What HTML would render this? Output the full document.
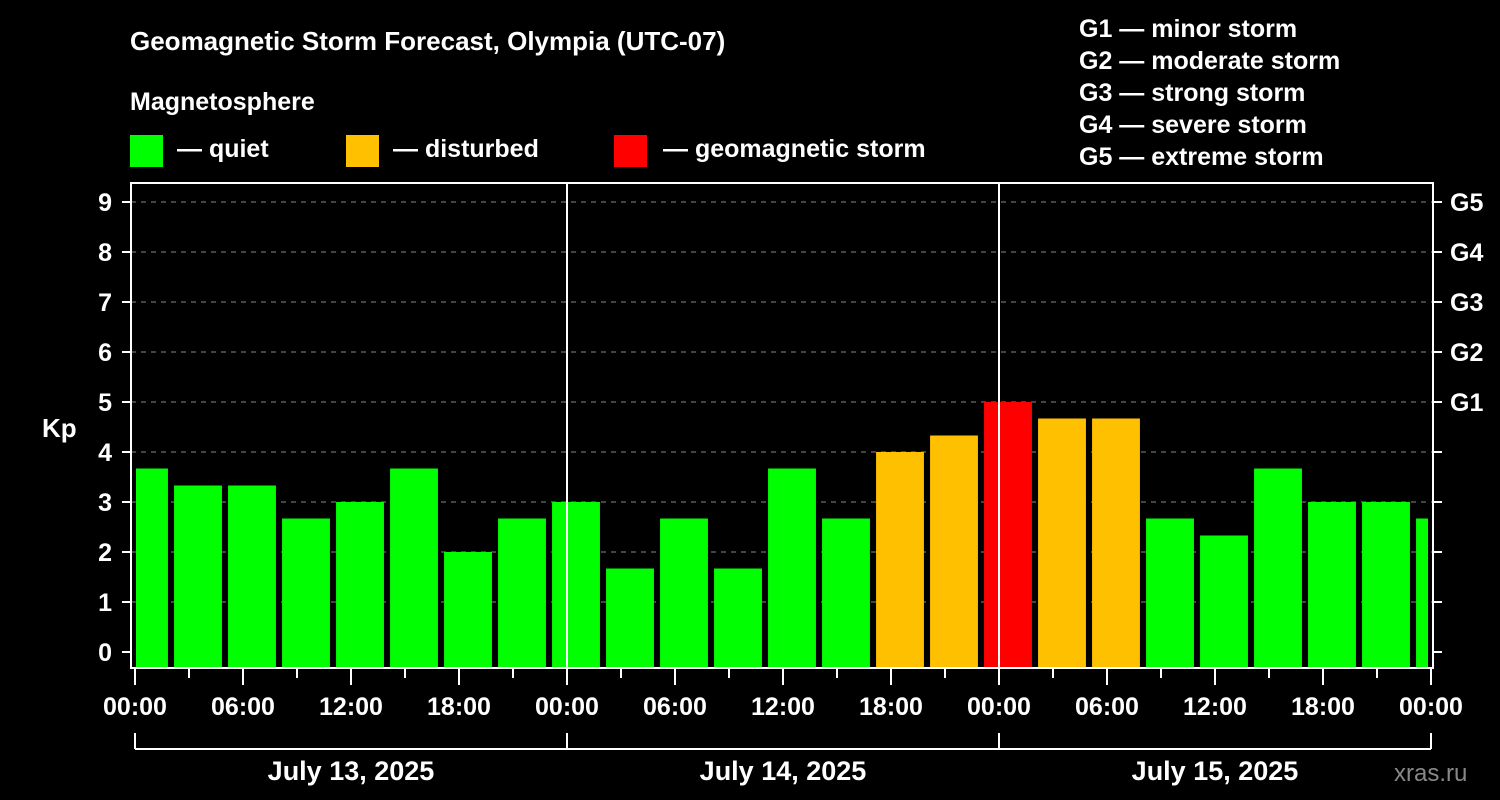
<!DOCTYPE html>
<html><head><meta charset="utf-8"><style>
html,body{margin:0;padding:0;background:#000;}
svg{display:block;font-family:"Liberation Sans",Arial,sans-serif;font-weight:bold;}
</style></head><body>
<svg id="c" width="1500" height="800" xmlns="http://www.w3.org/2000/svg">
<rect width="1500" height="800" fill="#000"/>
<text x="130" y="50" font-size="26" fill="#fff">Geomagnetic Storm Forecast, Olympia (UTC-07)</text>
<text x="130" y="110" font-size="25" fill="#fff">Magnetosphere</text>
<g><rect x="130" y="135" width="33" height="32" fill="#00ff00"/><text x="177" y="157" font-size="25" fill="#fff">— quiet</text></g>
<g><rect x="346" y="135" width="33" height="32" fill="#ffc000"/><text x="393" y="157" font-size="25" fill="#fff">— disturbed</text></g>
<g><rect x="614" y="135" width="33" height="32" fill="#ff0000"/><text x="663" y="157" font-size="25" fill="#fff">— geomagnetic storm</text></g>
<g font-size="25" fill="#fff">
<text x="1079" y="37">G1 — minor storm</text>
<text x="1079" y="69">G2 — moderate storm</text>
<text x="1079" y="101">G3 — strong storm</text>
<text x="1079" y="133">G4 — severe storm</text>
<text x="1079" y="165">G5 — extreme storm</text>
</g>
<text x="42" y="437" font-size="26" fill="#fff">Kp</text>
<text x="1394" y="781" font-size="24" fill="#888" font-weight="normal">xras.ru</text>
<g id="grid"></g><g id="bars"></g><g id="axes"></g>
</svg>
<script>
const kpValues=[3.67,3.33,3.33,2.67,3.0,3.67,2.0,2.67,3.0,1.67,2.67,1.67,3.67,2.67,4.0,4.33,5.0,4.67,4.67,2.67,2.33,3.67,3.0,3.0,2.67];
const yTicks=[0,1,2,3,4,5,6,7,8,9];
const gLabels=["G1","G2","G3","G4","G5"];
const gLevels=[5,6,7,8,9];
const hourLabels=["00:00","06:00","12:00","18:00"];
const dayLabels=["July 13, 2025","July 14, 2025","July 15, 2025"];
const NS="http://www.w3.org/2000/svg";
const L=131,R=1433,T=183,B=668,X0=135,PXH=18;
const y=v=>652-50*v;
const x=h=>X0+h*PXH;
function mk(tag,attrs,parent,txt){const e=document.createElementNS(NS,tag);for(const k in attrs)e.setAttribute(k,attrs[k]);if(txt!==undefined)e.textContent=txt;parent.appendChild(e);return e;}
const grid=document.getElementById('grid'),bars=document.getElementById('bars'),axes=document.getElementById('axes');
yTicks.forEach(v=>{if(v>0){const g=mk('line',{x1:L,x2:R,y1:y(v),y2:y(v),stroke:'#888','stroke-dasharray':'5,5','stroke-width':1},grid);

}
const t=mk('line',{x1:L-9,x2:L,y1:y(v),y2:y(v),stroke:'#fff','stroke-width':2},axes);


const lb=mk('text',{x:112,y:y(v)+9,'font-size':25,fill:'#fff','text-anchor':'end'},axes,String(v));


const rt=mk('line',{x1:R,x2:R+9,y1:y(v),y2:y(v),stroke:'#fff','stroke-width':2},axes);

});
gLabels.forEach((g,i)=>{const t=mk('text',{x:1450,y:y(gLevels[i])+9,'font-size':25,fill:'#fff'},axes,g);

});
kpValues.forEach((v,i)=>{const c=i*3+0.5;let x1=x(c-1.33),x2=x(c+1.33);x1=Math.max(x1,L+5);x2=Math.min(x2,R-5);
const col=v>=5?'#ff0000':(v>=4?'#ffc000':'#00ff00');
const r=mk('rect',{x:x1,y:y(v),width:x2-x1,height:B-y(v),fill:col},bars);

});
mk('rect',{x:L,y:T,width:R-L,height:B-T,fill:'none',stroke:'#fff','stroke-width':2},axes);
[1,2].forEach(d=>{const l=mk('line',{x1:x(24*d),x2:x(24*d),y1:T,y2:B,stroke:'#fff','stroke-width':2},axes);

});
for(let h=0;h<=72;h+=3){const major=h%6===0;const t=mk('line',{x1:x(h),x2:x(h),y1:B,y2:B+(major?17:10),stroke:'#fff','stroke-width':2},axes);

}
for(let h=0;h<=72;h+=6){const lb=mk('text',{x:x(h),y:715,'font-size':25,fill:'#fff','text-anchor':'middle'},axes,hourLabels[(h/6)%4]);

}
mk('line',{x1:x(0),x2:x(72),y1:749,y2:749,stroke:'#fff','stroke-width':2},axes);
for(let d=0;d<=3;d++){mk('line',{x1:x(24*d),x2:x(24*d),y1:733,y2:749,stroke:'#fff','stroke-width':2},axes);}
dayLabels.forEach((s,d)=>{const t=mk('text',{x:x(24*d+12),y:780,'font-size':27,fill:'#fff','text-anchor':'middle'},axes,s);

});
</script>
</body></html>
